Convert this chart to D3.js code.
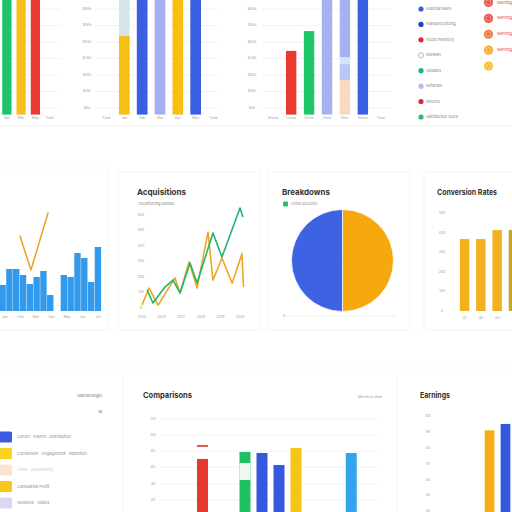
<!DOCTYPE html>
<html><head><meta charset="utf-8">
<script src="https://cdn.jsdelivr.net/npm/d3@7"></script>
<style>html,body{margin:0;padding:0;background:#fff;}svg{display:block;font-family:"Inter","DejaVu Sans",sans-serif;}</style>
</head><body><svg id="c" width="512" height="512"></svg>
<script>
// ---------- DATA ----------
// top row shared value axis
const topTickValues = [320, 270, 220, 170, 120, 70, 20];
const topTickLabels = ["$60k", "$50k", "$40k", "$30k", "$20k", "$10k", "$5k"];
// top panel 1
const p1Labels = ["Apr", "Mar", "May", "Total"];
const p1Green = [360, 0, 0, 0];
const p1Yellow = [0, 360, 0, 0];
const p1Red = [0, 0, 360, 0];
// top panel 2
const p2Labels = ["Total", "Jan", "Feb", "Mar", "Apr", "May", "Total"];
const p2Yellow = [0, 238, 0, 0, 360, 0, 0];
const p2Grey = [0, 122, 0, 0, 0, 0, 0];
const p2Blue = [0, 0, 360, 0, 0, 360, 0];
const p2Lavender = [0, 0, 0, 360, 0, 0, 0];
// top panel 3
const p3Labels = ["Brand", "Comp", "Grow", "Hold", "Retn", "Share", "Total"];
const p3Red = [0, 193, 0, 0, 0, 0, 0];
const p3Green = [0, 0, 253, 0, 0, 0, 0];
const p3Peach = [0, 0, 0, 0, 105, 0, 0];
const p3LightBlue = [0, 0, 0, 0, 48, 0, 0];
const p3PaleLav = [0, 0, 0, 0, 21, 0, 0];
const p3Lavender = [0, 0, 0, 360, 186, 0, 0];
const p3Blue = [0, 0, 0, 0, 0, 360, 0];
// top-right legend
const legendNames = ["Subtotal sales", "Standard pricing", "Stock inventory", "Reviews", "Updates", "Referrals", "Returns", "Satisfaction score"];
const legendColors = ["#3a5fe0", "#2341c4", "#e0283f", "none", "#22b573", "#aebff0", "#e0283f", "#22c36b"];
const badgeColors = ["#e2483a", "#e0463a", "#ee6a2b", "#f3a41b", "#f5b81a"];
const badgeLabels = ["Warning", "Warning", "Warning", "Warning", ""];
// middle-left bars + line
const weekValues = [26, 42, 42, 36, 27, 34, 40, 16, null, 36, 34, 58, 53, 29, 64];
const trendWeeks = [2.97, 4.6, 7.13];
const trendValues = [75, 41, 98];
const monthLabels = ["Jan", "Feb", "Mar", "Apr", "May", "Jun", "Jul"];
// middle line chart
const lineYears = ["2015", "2016", "2017", "2018", "2019", "2020"];
const lineTicks = [60, 50, 40, 30, 20, 10, 0];
const greenX = [0.26, 0.56, 1.17, 1.58, 1.94, 2.45, 2.81, 3.62, 4.08, 5.0, 5.15];
const greenY = [11.6, 3.2, 13.5, 18, 9.7, 29, 16.1, 48.4, 32.9, 64.5, 58.7];
const orangeX = [0.0, 0.36, 0.82, 1.68, 1.94, 2.4, 2.81, 3.37, 3.62, 4.08, 4.6, 5.1, 5.18];
const orangeY = [2, 12.9, 1.9, 19.4, 9.7, 29.7, 12.9, 49, 18, 32.3, 16, 35, 13.5];
// pie
const pieNames = ["Returning", "New"];
const pieValues = [50, 50];
// conversion bars
const convLabels = ["Q1", "Q2", "Q3", "Q4"];
const convValues = [367, 367, 413, 413];
const convTicks = [500, 400, 300, 200, 100, 0];
// bottom-left legend
const blColors = ["#3b5be0", "#f6d31c", "#fbe3cc", "#f7c81a", "#ddd5f5"];
const blTexts = ["Cohort   Events   Distribution", "Conversion   Engagement   Retention", "Visits   Onboarding", "Cumulative Profit", "Sessions   Status"];
const blOpacity = [1, 1, 0.45, 1, 1];
// comparisons
const cmpTicks = [120, 100, 80, 60, 40, 20];
const cmpDays = [5, 10, 12, 14, 16, 22.5];
const cmpValues = [70.4, 79, 77.8, 63, 84, 77.8];
const cmpColors = ["#e8372c", "#1fc062", "#3558e0", "#3558e0", "#f6c416", "#33a4ea"];
const cmpTarget = [86.4, null, null, null, null, null];
const cmpGapLow = [null, 44.4, null, null, null, null];
const cmpGapHigh = [null, 65.4, null, null, null, null];
// earnings
const earnTicks = [100, 90, 80, 70, 60, 50, 40];
const earnCats = ["A", "B", "C"];
const earnValues = [91, 95, 0];
const earnColors = ["#f5ad14", "#3558e0", "#fff"];

// ---------- DRAW ----------
const svg = d3.select("#c");
svg.append("rect").attr("width", 512).attr("height", 512).attr("fill", "#fff");
const tickFill = "#a3a3a3";
function txt(x, y, s, size, fill, anchor, weight) {
  return svg.append("text").attr("x", x).attr("y", y).text(s)
    .attr("font-size", size).attr("fill", fill).attr("text-anchor", anchor || "start")
    .attr("font-weight", weight || "normal").attr("dominant-baseline", "middle");
}

// faint card outlines
const cardG = svg.append("g").attr("fill", "none").attr("stroke", "#f5f5f5").attr("stroke-width", 1);
cardG.append("line").attr("x1", 0).attr("x2", 512).attr("y1", 126).attr("y2", 126);
cardG.append("rect").attr("x", -2).attr("y", 168).attr("width", 110).attr("height", 162);
cardG.append("rect").attr("x", 118).attr("y", 172).attr("width", 142).attr("height", 158);
cardG.append("rect").attr("x", 268).attr("y", 172).attr("width", 142).attr("height", 158);
cardG.append("rect").attr("x", 424).attr("y", 172).attr("width", 100).attr("height", 158);
cardG.append("line").attr("x1", 123).attr("x2", 123).attr("y1", 372).attr("y2", 512);
cardG.append("line").attr("x1", 397).attr("x2", 397).attr("y1", 372).attr("y2", 512);
cardG.append("line").attr("x1", 0).attr("x2", 512).attr("y1", 368).attr("y2", 368);

const topY = d3.scaleLinear().domain([0, 360]).range([114.6, -4.2]);

function topPanel(labels, keys, series, colors, r0, r1, pad, tickX, gridX0, gridX1) {
  const g = svg.append("g");
  const x = d3.scaleBand().domain(d3.range(labels.length)).range([r0, r1]).padding(pad);
  g.selectAll(null).data(topTickValues).join("line")
    .attr("x1", gridX0).attr("x2", gridX1).attr("y1", d => topY(d)).attr("y2", d => topY(d))
    .attr("stroke", "#f0f0f0").attr("stroke-width", 0.8);
  if (tickX !== null) {
    g.selectAll(null).data(topTickValues).join("text")
      .attr("x", tickX).attr("y", d => topY(d)).text((d, i) => topTickLabels[i])
      .attr("font-size", 3.6).attr("fill", tickFill).attr("text-anchor", "middle").attr("dominant-baseline", "middle");
  }
  const rows = labels.map((l, i) => { const r = { i }; keys.forEach((k, j) => r[k] = series[j][i]); return r; });
  const st = d3.stack().keys(keys)(rows);
  st.forEach((layer, li) => {
    g.selectAll(null).data(layer.filter(d => d[1] > d[0])).join("rect")
      .attr("x", d => x(d.data.i)).attr("width", x.bandwidth())
      .attr("y", d => topY(d[1])).attr("height", d => topY(d[0]) - topY(d[1]))
      .attr("fill", colors[li]);
  });
  g.selectAll(null).data(labels).join("text")
    .attr("x", (d, i) => x(i) + x.bandwidth() / 2).attr("y", 118.5).text(d => d)
    .attr("font-size", 3.6).attr("fill", tickFill).attr("text-anchor", "middle").attr("dominant-baseline", "middle");
}
topPanel(p1Labels, ["g", "y", "r"], [p1Green, p1Yellow, p1Red], ["#1fc16b", "#f6c11b", "#ea3a2f"], -2.75, 59.25, 0.35, null, -3, 60);
topPanel(p2Labels, ["y", "gr", "b", "l"], [p2Yellow, p2Grey, p2Blue, p2Lavender], ["#f6bf14", "#d6e5ea", "#3a5fe0", "#a5aef0"], 94, 226, 0.4, 87, 95, 218);
topPanel(p3Labels, ["r", "g", "pe", "lb", "pl", "la", "b"], [p3Red, p3Green, p3Peach, p3LightBlue, p3PaleLav, p3Lavender, p3Blue],
  ["#ea3a2f", "#1fc46b", "#f9d9bb", "#b6c8f4", "#d7e2f4", "#a5b2ef", "#3a5fe0"], 260.5, 393.5, 0.42, 252, 262, 392);

// top-right legend
const lg = svg.append("g");
const legY = d3.scalePoint().domain(legendNames).range([9, 117]);
lg.selectAll(null).data(legendNames).join("circle")
  .attr("cx", 421).attr("cy", d => legY(d)).attr("r", 2.6)
  .attr("fill", (d, i) => legendColors[i] === "none" ? "#fff" : legendColors[i])
  .attr("stroke", (d, i) => legendColors[i] === "none" ? "#9aa8d8" : "none").attr("stroke-width", 0.8);
lg.selectAll(null).data(legendNames).join("text")
  .attr("x", 426).attr("y", d => legY(d)).text(d => d)
  .attr("font-size", 3.8).attr("fill", "#7d8499").attr("dominant-baseline", "middle");
const badgeY = d3.scaleLinear().domain([0, 4]).range([2.5, 66]);
badgeColors.forEach((c, i) => {
  svg.append("circle").attr("cx", 488.5).attr("cy", badgeY(i)).attr("r", 4.6).attr("fill", c).attr("opacity", 0.9);
  svg.append("circle").attr("cx", 488.5).attr("cy", badgeY(i)).attr("r", 2.6).attr("fill", "none").attr("stroke", "#fff").attr("stroke-opacity", 0.45).attr("stroke-width", 0.8);
  if (badgeLabels[i]) txt(497, badgeY(i) + (i === 0 ? 0.8 : 0), badgeLabels[i], 3.8, "#e0404a");
});

// middle-left bars + trend line
{
  const g = svg.append("g");
  const x = d3.scaleBand().domain(d3.range(weekValues.length)).range([-1, 101.5]).padding(0.06);
  const y = d3.scaleLinear().domain([0, 100]).range([311, 211]);
  g.selectAll(null).data(weekValues.map((v, i) => ({ v, i })).filter(d => d.v !== null)).join("rect")
    .attr("x", d => x(d.i)).attr("width", x.bandwidth()).attr("y", d => y(d.v)).attr("height", d => y(0) - y(d.v))
    .attr("fill", "#3399ec");
  const lx = d3.scaleLinear().domain([0, 15]).range([0, 101]);
  g.append("path").datum(trendWeeks.map((w, i) => [w, trendValues[i]]))
    .attr("d", d3.line().x(d => lx(d[0])).y(d => y(d[1])))
    .attr("fill", "none").attr("stroke", "#e9a31e").attr("stroke-width", 1.5).attr("stroke-linejoin", "round").attr("stroke-linecap", "round");
  const mx = d3.scalePoint().domain(monthLabels).range([5, 98]);
  g.selectAll(null).data(monthLabels).join("text").attr("x", d => mx(d)).attr("y", 317).text(d => d)
    .attr("font-size", 3.6).attr("fill", tickFill).attr("text-anchor", "middle").attr("dominant-baseline", "middle");
}

// middle line chart
{
  const g = svg.append("g");
  txt(137, 193, "Acquisitions", 8.2, "#333", "start", "bold").attr("textLength", 49).attr("lengthAdjust", "spacingAndGlyphs");
  txt(138, 204, "Top performing channels", 3.8, "#999").attr("textLength", 36);
  const y = d3.scaleLinear().domain([0, 60]).range([308, 215]);
  const xp = d3.scalePoint().domain(lineYears).range([142, 240]);
  const x = d3.scaleLinear().domain([0, 5]).range([142, 240]);
  g.selectAll(null).data(lineTicks).join("text").attr("x", 141).attr("y", d => y(d)).text(d => d * 10)
    .attr("font-size", 3.6).attr("fill", tickFill).attr("text-anchor", "middle").attr("dominant-baseline", "middle");
  g.selectAll(null).data(lineYears).join("text").attr("x", d => xp(d)).attr("y", 317).text(d => d)
    .attr("font-size", 3.6).attr("fill", tickFill).attr("text-anchor", "middle").attr("dominant-baseline", "middle");
  const line = d3.line().x(d => x(d[0])).y(d => y(d[1]));
  g.append("path").datum(orangeX.map((v, i) => [v, orangeY[i]])).attr("d", line)
    .attr("fill", "none").attr("stroke", "#eda723").attr("stroke-width", 1.6).attr("stroke-linejoin", "round");
  g.append("path").datum(greenX.map((v, i) => [v, greenY[i]])).attr("d", line)
    .attr("fill", "none").attr("stroke", "#20b46f").attr("stroke-width", 1.6).attr("stroke-linejoin", "round");
}

// pie
{
  txt(282, 193, "Breakdowns", 8.2, "#333", "start", "bold").attr("textLength", 48).attr("lengthAdjust", "spacingAndGlyphs");
  svg.append("rect").attr("x", 283).attr("y", 201.5).attr("width", 5).attr("height", 5).attr("rx", 1.2).attr("fill", "#22c36b");
  txt(291, 204, "Active accounts", 3.8, "#999").attr("textLength", 26);
  const pie = d3.pie().sort(null)(pieValues);
  const arc = d3.arc().innerRadius(0).outerRadius(51);
  svg.append("g").attr("transform", "translate(342.5,260.5)").selectAll("path").data(pie).join("path")
    .attr("d", arc).attr("fill", (d, i) => ["#f6a90f", "#3d63e2"][i]).attr("stroke", "#fff").attr("stroke-width", 0.8);
  svg.append("line").attr("x1", 282).attr("x2", 396).attr("y1", 316).attr("y2", 316).attr("stroke", "#e6e6e6").attr("stroke-width", 0.7);
  txt(284, 316.5, "0", 3.2, tickFill, "middle");
}

// conversion rates
{
  txt(437, 193, "Conversion Rates", 8.2, "#333", "start", "bold").attr("textLength", 60).attr("lengthAdjust", "spacingAndGlyphs");
  const y = d3.scaleLinear().domain([0, 500]).range([311, 213]);
  const x = d3.scaleBand().domain(convLabels).range([453, 525]).padding(0.42);
  svg.selectAll(null).data(convTicks).join("text").attr("x", 442).attr("y", d => y(d)).text(d => d)
    .attr("font-size", 3.6).attr("fill", tickFill).attr("text-anchor", "middle").attr("dominant-baseline", "middle");
  svg.selectAll(null).data(convLabels).join("rect").attr("x", d => x(d)).attr("width", x.bandwidth())
    .attr("y", (d, i) => y(convValues[i])).attr("height", (d, i) => y(0) - y(convValues[i]))
    .attr("fill", (d, i) => i === 3 ? "#c9a524" : "#f2b11e");
  svg.selectAll(null).data(convLabels.slice(0, 3)).join("text").attr("x", d => x(d) + x.bandwidth() / 2).attr("y", 318).text(d => d)
    .attr("font-size", 3.6).attr("fill", tickFill).attr("text-anchor", "middle").attr("dominant-baseline", "middle");
}

// bottom-left legend
{
  txt(102, 396, "Selected ranges", 3.8, "#888", "end").attr("textLength", 25);
  txt(102, 412, "18", 4, "#666", "end");
  const ly = d3.scaleLinear().domain([0, 4]).range([437, 503]);
  blColors.forEach((c, i) => {
    svg.append("rect").attr("x", -1).attr("y", ly(i) - 5.5).attr("width", 13).attr("height", 11).attr("rx", 1.5).attr("fill", c);
    txt(17, ly(i), blTexts[i], 4, "#8a8a8a").attr("opacity", blOpacity[i]).attr("xml:space", "preserve");
  });
}

// comparisons
{
  txt(143, 396, "Comparisons", 8.2, "#333", "start", "bold").attr("textLength", 49).attr("lengthAdjust", "spacingAndGlyphs");
  txt(382, 397, "Month to date", 3.6, "#999", "end").attr("textLength", 24);
  const y = d3.scaleLinear().domain([0, 120]).range([516, 418.8]);
  const x = d3.scaleLinear().domain([0, 26]).range([160, 381]);
  svg.selectAll(null).data(cmpTicks).join("line").attr("x1", 160).attr("x2", 380)
    .attr("y1", d => y(d)).attr("y2", d => y(d)).attr("stroke", "#f0f0f0").attr("stroke-width", 0.8);
  svg.selectAll(null).data(cmpTicks).join("text").attr("x", 153).attr("y", d => y(d)).text(d => d)
    .attr("font-size", 3.6).attr("fill", tickFill).attr("text-anchor", "middle").attr("dominant-baseline", "middle");
  const bw = 11;
  svg.selectAll(null).data(cmpDays).join("rect").attr("x", d => x(d) - bw / 2).attr("width", bw)
    .attr("y", (d, i) => y(cmpValues[i])).attr("height", (d, i) => y(0) - y(cmpValues[i])).attr("fill", (d, i) => cmpColors[i]);
  cmpDays.forEach((d, i) => {
    if (cmpTarget[i] !== null) svg.append("rect").attr("x", x(d) - bw / 2).attr("width", bw).attr("y", y(cmpTarget[i]) - 0.8).attr("height", 1.6).attr("fill", "#d9352b");
    if (cmpGapLow[i] !== null) svg.append("rect").attr("x", x(d) - bw / 2).attr("width", bw).attr("y", y(cmpGapHigh[i])).attr("height", y(cmpGapLow[i]) - y(cmpGapHigh[i])).attr("fill", "#eef9f2");
  });
}

// earnings
{
  txt(420, 396, "Earnings", 8.2, "#333", "start", "bold").attr("textLength", 30).attr("lengthAdjust", "spacingAndGlyphs");
  const y = d3.scaleLinear().domain([0, 100]).range([575, 416]);
  const x = d3.scaleBand().domain(earnCats).range([478.5, 532.5]).padding(0.39);
  svg.selectAll(null).data(earnTicks).join("text").attr("x", 428).attr("y", d => y(d)).text(d => d)
    .attr("font-size", 3.6).attr("fill", tickFill).attr("text-anchor", "middle").attr("dominant-baseline", "middle");
  svg.selectAll(null).data(earnCats.filter((d, i) => earnValues[i] > 0)).join("rect")
    .attr("x", d => x(d)).attr("width", x.bandwidth())
    .attr("y", d => y(earnValues[earnCats.indexOf(d)])).attr("height", d => y(0) - y(earnValues[earnCats.indexOf(d)]))
    .attr("fill", d => earnColors[earnCats.indexOf(d)]);
}
</script></body></html>
